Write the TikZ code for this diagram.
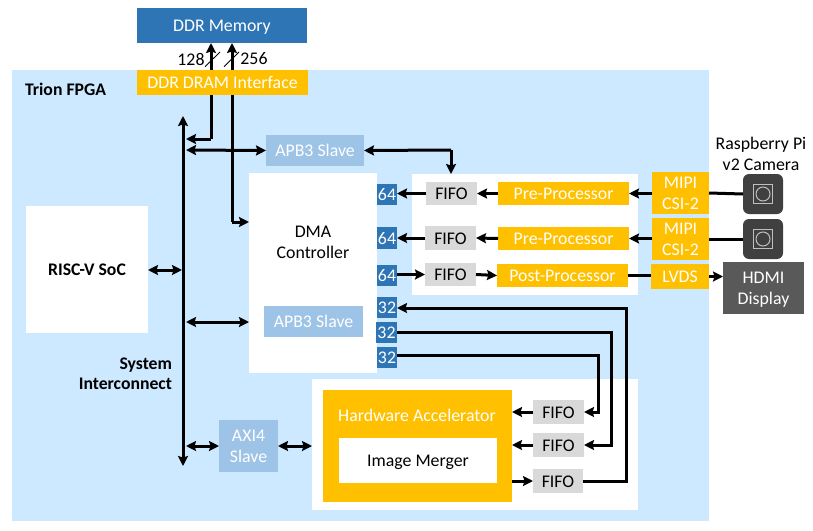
\documentclass[tikz,border=0pt]{standalone}
\usepackage{fontspec}
\setmainfont{Carlito}
\usetikzlibrary{arrows.meta,calc}
\pgfdeclarelayer{bg}\pgfdeclarelayer{conn}
\pgfsetlayers{bg,conn,main}
\definecolor{fpga}{HTML}{CCE9FF}
\definecolor{dkblue}{HTML}{2E75B6}
\definecolor{ltblue}{HTML}{9DC3E6}
\definecolor{amber}{HTML}{FFC000}
\definecolor{fifogray}{HTML}{D9D9D9}
\definecolor{darkbox}{HTML}{595959}
\definecolor{cam}{HTML}{404040}
\tikzset{
 x=1pt,y=-1pt,
 every node/.style={inner sep=0pt,outer sep=0pt,align=center,font=\fontsize{17.8}{21}\selectfont},
 blk/.style={fill=dkblue,text=white},
 lt/.style={fill=ltblue,text=white},
 amb/.style={fill=amber,text=white},
 ff/.style={fill=fifogray,text=black},
 panel/.style={fill=white},
 wire/.style={line width=3pt,black},
 ar/.style={wire,-{Stealth[length=10pt,width=10pt,inset=1.5pt]}},
 lr/.style={wire,{Stealth[length=10pt,width=10pt,inset=1.5pt]}-{Stealth[length=10pt,width=10pt,inset=1.5pt]}},
 tick/.style={line width=0.9pt,black},
 bold/.style={font=\fontsize{17.7}{20}\selectfont\bfseries},
}
\newcommand{\stt}{\rule[-4pt]{0pt}{20pt}}
% name, x1, y1, x2, y2, style, text
\newcommand{\bx}[7]{\node[#6,minimum width=#4pt-#2pt,minimum height=#5pt-#3pt] (#1) at ({(#2+#4)/2},{(#3+#5)/2}) {\stt#7\stt};}
\begin{document}
\begin{tikzpicture}
\useasboundingbox (0,0) rectangle (813,530);
\begin{pgfonlayer}{bg}
\bx{fpgabox}{12}{70}{709}{521}{fill=fpga}{}
\bx{dmapanel}{249}{173}{377}{373}{panel}{}
\bx{topanel}{412}{174}{638}{295}{panel}{}
\bx{hwpanel}{312}{379}{638}{510}{panel}{}
\end{pgfonlayer}

\bx{ddr}{137}{8}{307}{43}{blk}{DDR Memory}
\bx{ddrif}{137}{70}{308}{95}{amb}{DDR DRAM Interface}
\bx{apbtop}{266}{135}{364}{166}{lt}{APB3 Slave}
\bx{apblow}{264}{306}{363}{337}{lt}{APB3 Slave}
\bx{soc}{26}{206}{148}{333}{panel,bold}{RISC-V SoC}
\bx{axi}{219}{420}{278}{472}{lt}{AXI4\\Slave}

\bx{sa}{377}{184}{397}{205}{blk}{64}
\bx{sb}{377}{227}{397}{249}{blk}{64}
\bx{sc}{377}{265}{397}{286}{blk}{64}
\bx{ta}{377}{297}{397}{318}{blk}{32}
\bx{tb}{376}{322}{397}{343}{blk}{32}
\bx{tc}{377}{347}{397}{368}{blk}{32}

\bx{fa}{426}{182}{477}{205}{ff}{FIFO}
\bx{fb}{425}{226}{476}{250}{ff}{FIFO}
\bx{fc}{425}{263}{476}{286}{ff}{FIFO}
\bx{pa}{498}{182}{629}{205}{amb}{Pre-Processor}
\bx{pb}{498}{227}{629}{250}{amb}{Pre-Processor}
\bx{pc}{497}{264}{628}{287}{amb}{Post-Processor}
\bx{ma}{652}{172}{709}{214}{amb}{MIPI\\CSI-2}
\bx{mb}{652}{218}{709}{260}{amb}{MIPI\\CSI-2}
\bx{lv}{651}{264}{709}{289}{amb}{LVDS}
\bx{hdmi}{723}{262}{804}{314}{fill=darkbox,text=white}{HDMI\\Display}

\bx{hw}{323}{390}{512}{502}{fill=amber}{}
\bx{im}{339}{438}{497}{483}{panel}{Image Merger}
\bx{ga}{533}{400}{584}{424}{ff}{FIFO}
\bx{gb}{533}{433}{584}{457}{ff}{FIFO}
\bx{gc}{533}{469}{583}{493}{ff}{FIFO}

\node[text=white] (hwlabel) at (417,415) {Hardware Accelerator};
\node (dmalabel) at (313,242) {DMA\\Controller};
\node[bold,anchor=west] (trion) at (25,89) {Trion FPGA};
\node[bold,align=right,anchor=east] (sysic) at (172,374) {System\\Interconnect};
\node (rpi) at (761,154) {Raspberry Pi\\v2 Camera};
\node (wa) at (191,59) {128};
\node (wb) at (254,59) {256};

% cameras
\foreach \n/\c in {ca/194,cb/239}{
 \node[fill=cam,rounded corners=6pt,minimum width=40pt,minimum height=40pt] (\n) at (763,\c) {};
 \node[draw=white!75!black,line width=1pt,minimum width=19pt,minimum height=19pt] (\n s) at (763,\c) {};
 \node[draw=white!75!black,line width=1pt,circle,minimum width=14pt] (\n c) at (763,\c) {};
}

\coordinate (bustop) at (183,116);
\coordinate (busbot) at (183,466);
\coordinate (n211) at (211,139);
\coordinate (bustap) at (186,139);
\coordinate (apbtap) at (186,150);
\coordinate (n232) at (232,222);
\coordinate (n451) at (451,150);
\coordinate (r598) at (598,355);
\coordinate (r611) at (611,332);
\coordinate (r626) at (626,308);
\coordinate (rb) at (626,481);
\coordinate (soctap) at (182,270);
\coordinate (dmatap) at (186,322);
\coordinate (axitap) at (186,446);

\begin{pgfonlayer}{conn}
\draw[lr] (bustop) -- (busbot);
\draw[ar] (n211) -- (ddr.south -| n211);
\draw[ar] (n211) -- (bustap);
\draw[ar] (n232) -- (dmapanel.west |- n232);
\draw[ar] (n232) -- (ddr.south -| n232);
\draw[lr] (apbtop.west) -- (apbtap);
\draw[ar] (n451) -- (topanel.north -| n451);
\draw[ar] (n451) -- (apbtop.east);
\draw[lr] (soc.east |- soctap) -- (soctap);
\draw[lr] (dmapanel.west |- dmatap) -- (dmatap);
\draw[lr] (axi.west) -- (axitap);
\draw[lr] (axi.east) -- (hwpanel.west |- axi.east);
\end{pgfonlayer}
\draw[tick] (205,66.7) -- (220,52);
\draw[tick] (224,66.7) -- (239,52);

\draw[ar] (fa.west) -- (sa.east |- fa.west);
\draw[ar] (fb.west) -- (sb.east |- fb.west);
\draw[ar] (sc.east |- fc.west) -- (fc.west);
\draw[ar] (pa.west) -- (fa.east);
\draw[ar] (pb.west) -- (fb.east);
\draw[ar] (fc.east) -- (pc.east -| pc.west);
\draw[ar] (ma.west |- pa.west) -- (pa.east);
\draw[ar] (mb.west |- pb.west) -- (pb.east);
\draw[wire] (pc.east) -- (lv.west |- pc.east);
\draw[ar] (lv.east) -- (hdmi.west |- lv.east);
\draw[wire] (ma.east) -- (ca.west);
\draw[wire] (mb.east) -- (cb.west);

\draw[ar] (gc.east) -- (rb) -- (r626) -- (ta.east |- r626);
\draw[ar] (tb.east |- r611) -- (r611) -- (r611 |- gb.east) -- (gb.east);
\draw[ar] (tc.east |- r598) -- (r598) -- (r598 |- ga.east) -- (ga.east);
\draw[ar] (ga.west) -- (hw.east |- ga.west);
\draw[ar] (gb.west) -- (hw.east |- gb.west);
\draw[ar] (hw.east |- gc.west) -- (gc.west);
\end{tikzpicture}
\end{document}
